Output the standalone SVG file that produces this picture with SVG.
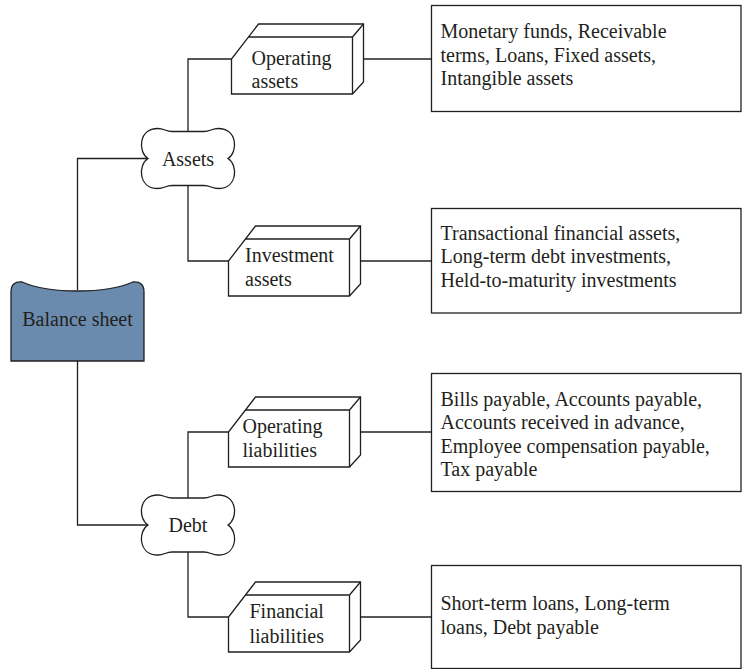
<svg xmlns="http://www.w3.org/2000/svg" xmlns:xlink="http://www.w3.org/1999/xlink" width="752" height="669" viewBox="0 0 752 669">
<style>
.ln{fill:none;stroke:#231f20;stroke-width:1.3}
.sh{fill:#fff;stroke:#231f20;stroke-width:1.3;stroke-linejoin:miter}
.t{font-family:"Liberation Serif","Times New Roman",serif;font-size:20px;fill:#231f20}
.c{text-anchor:middle}
</style>
<defs>
<path id="cloud" d="M-40,0 C-50,-6 -50,-30 -30,-30 C-24,-30 -22,-27 -16,-27 L16,-27 C22,-27 24,-30 30,-30 C50,-30 50,-6 40,0 C50,6 50,30 30,30 C24,30 22,27 16,27 L-16,27 C-22,27 -24,30 -30,30 C-50,30 -50,6 -40,0 Z"/>
<g id="box3d">
<path class="sh" d="M0,35 L0,0 L27,-35 L132,-35 L132,23 L121,35 Z"/>
<path class="ln" d="M17,-22 L121,-22 L132,-35 M121,-22 L121,35"/>
</g>
</defs>
<g id="connectors" class="ln">
<path d="M77.5,290 V158.5 H148"/>
<path d="M77.5,361 V525 H148"/>
<path d="M188,131.5 V59 H231.5"/>
<path d="M188,185.5 V261 H228.5"/>
<path d="M188,498 V432 H228.5"/>
<path d="M188,552 V617 H228.5"/>
<path d="M363.5,59 H431.5"/>
<path d="M360.5,261 H431.5"/>
<path d="M360.5,432 H431.5"/>
<path d="M360.5,617 H431.5"/>
</g>
<g id="balance-sheet">
<path d="M11,361 L11,292 Q11,281 22,282 C50,294 105,294 133,282 Q144,281 144,292 L144,361 Z" fill="#6a8bad" stroke="#231f20" stroke-width="1.3"/>
<text class="t c" x="77.5" y="326">Balance sheet</text>
</g>
<g id="assets">
<use xlink:href="#cloud" x="188" y="158.5" class="sh"/>
<text class="t c" x="188" y="165.5">Assets</text>
</g>
<g id="debt">
<use xlink:href="#cloud" x="188" y="525" class="sh"/>
<text class="t c" x="188" y="532">Debt</text>
</g>
<g id="operating-assets">
<use xlink:href="#box3d" x="231.5" y="59"/>
<text class="t" x="251.5" y="64.5">Operating</text>
<text class="t" x="251.5" y="87.5">assets</text>
</g>
<g id="investment-assets">
<use xlink:href="#box3d" x="228.5" y="261"/>
<text class="t" x="245" y="262">Investment</text>
<text class="t" x="245" y="286">assets</text>
</g>
<g id="operating-liabilities">
<use xlink:href="#box3d" x="228.5" y="432"/>
<text class="t" x="242.5" y="433">Operating</text>
<text class="t" x="242.5" y="457">liabilities</text>
</g>
<g id="financial-liabilities">
<use xlink:href="#box3d" x="228.5" y="617"/>
<text class="t" x="249.5" y="618">Financial</text>
<text class="t" x="249.5" y="643">liabilities</text>
</g>
<g id="operating-assets-items">
<rect class="sh" x="431.5" y="5.5" width="309.5" height="106"/>
<text class="t" x="440.5" y="38">Monetary funds, Receivable</text>
<text class="t" x="440.5" y="61.5">terms, Loans, Fixed assets,</text>
<text class="t" x="440.5" y="85">Intangible assets</text>
</g>
<g id="investment-assets-items">
<rect class="sh" x="431.5" y="208.5" width="309.5" height="104.5"/>
<text class="t" x="440.5" y="239.5">Transactional financial assets,</text>
<text class="t" x="440.5" y="263">Long-term debt investments,</text>
<text class="t" x="440.5" y="286.5">Held-to-maturity investments</text>
</g>
<g id="operating-liabilities-items">
<rect class="sh" x="431.5" y="373.5" width="309.5" height="118"/>
<text class="t" x="440.5" y="405.5">Bills payable, Accounts payable,</text>
<text class="t" x="440.5" y="429">Accounts received in advance,</text>
<text class="t" x="440.5" y="452.5">Employee compensation payable,</text>
<text class="t" x="440.5" y="476">Tax payable</text>
</g>
<g id="financial-liabilities-items">
<rect class="sh" x="431.5" y="565.5" width="309.5" height="103"/>
<text class="t" x="440.5" y="610">Short-term loans, Long-term</text>
<text class="t" x="440.5" y="633.5">loans, Debt payable</text>
</g>
</svg>
